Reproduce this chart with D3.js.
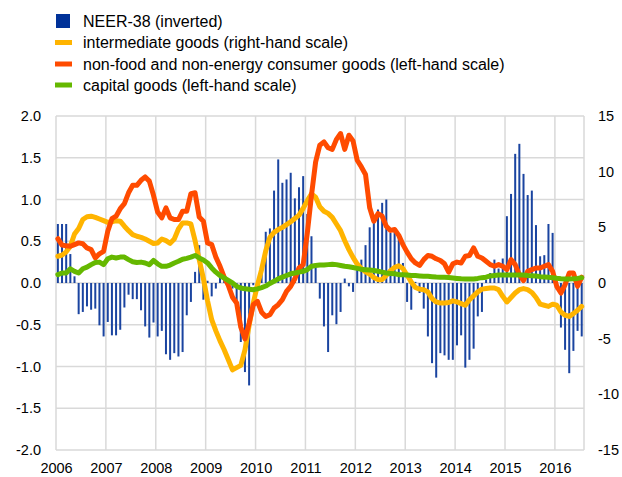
<!DOCTYPE html>
<html>
<head>
<meta charset="utf-8">
<script src="https://cdn.jsdelivr.net/npm/d3@7"></script>
<style>
  html, body { margin: 0; padding: 0; background: #fff; }
  svg { display: block; font-family: "Liberation Sans", Arial, sans-serif; }
</style>
</head>
<body>
<svg id="chart" width="622" height="477"></svg>
<script>
// Monthly data, Jan 2006 - Jul 2016
const years = ["2006", "2007", "2008", "2009", "2010", "2011", "2012", "2013", "2014", "2015", "2016"];
const leftTicks = [-2, -1.5, -1, -0.5, 0, 0.5, 1, 1.5, 2];
const rightTicks = [-15, -10, -5, 0, 5, 10, 15];

// NEER-38 (inverted), right-hand scale
const neer = [
  5.3, 5.3, 5.3, 2.6, 0.6, -2.8, -2.6, -2.1, -2.4, -2.3, -3.8, -4.8,
  -3.5, -4.7, -4.7, -4.2, -2.2, -1.05, -1.45, -1.45, -2.45, -3.9, -4.9, -3.55,
  -4.8, -4.3, -6.4, -6.9, -6.3, -6.6, -6.2, -2.9, -1.7, 1.0, 3.4, -1.5,
  0.2, -1.2, -0.5, 0.8, 0.3, -0.3, -0.5, -1.7, -5.3, -8.0, -9.2, -0.2,
  -0.2, 1.5, 4.6, 4.9, 8.3, 11.1, 9.0, 9.3, 9.9, 7.6, 8.6, 9.6,
  6.2, 4.2, 1.4, -1.4, -3.9, -6.2, -2.9, -3.7, -2.6, 0.4, -0.3, -0.8,
  1.9, 2.1, 3.4, 5.0, 5.5, 6.6, 7.2, 7.5, 4.5, 4.6, 4.2, 1.8,
  -1.7, -2.4, 0.1, -0.9, -2.3, -4.8, -7.2, -8.5, -6.3, -6.5, -6.9, -6.9,
  -5.6, -4.7, -7.6, -6.9, -5.9, -3.0, -2.6, 0.3, 0.9, 2.1, 1.3, 2.2,
  6.0, 8.0, 11.6, 12.5, 9.8, 7.9, 8.3, 5.2, 2.4, 2.5, 5.3, 4.5,
  -0.6, -4.0, -6.0, -8.1, -6.1, -4.3, -4.8
];

// intermediate goods, right-hand scale
const intermediate = [
  2.4, 2.5, 2.8, 3.3, 4.4, 4.9, 5.7, 5.95, 6.0, 5.9, 5.75, 5.6,
  5.45, 5.5, 5.6, 5.55, 5.1, 4.7, 4.35, 4.2, 4.1, 3.95, 3.75, 3.55,
  3.6, 3.95, 3.8, 3.56, 3.95, 4.85, 5.4, 5.4, 5.3, 3.8, 2.1, 0.4,
  -1.6, -3.3, -4.3, -5.2, -6.0, -6.9, -7.8, -7.6, -7.4, -6.0, -3.8, -1.8,
  -0.2, 1.2, 2.9, 4.1, 4.55, 4.8, 5.0, 5.25, 5.5, 5.8, 6.1, 6.7,
  7.4, 8.0, 7.7, 6.85, 6.45, 6.25, 5.9, 5.3, 4.7, 3.8, 3.0, 2.3,
  1.7, 1.3, 1.0, 0.8, 0.5, 0.3, 0.3, 0.7, 1.1, 1.4, 1.55, 1.3,
  0.7, 0.1, -0.4, -0.55, -0.6, -0.8, -1.4, -1.7, -1.8, -1.8, -1.75, -1.6,
  -1.7, -1.85, -2.0, -1.5, -1.15, -0.8, -0.55, -0.5, -0.45, -0.45, -0.6, -1.2,
  -1.7, -1.3, -0.9, -0.6, -0.5, -0.6, -0.85, -1.3, -1.9, -2.0, -2.1, -1.9,
  -2.0, -2.6, -2.9, -3.0, -2.75, -2.45, -2.1
];

// non-food and non-energy consumer goods, left-hand scale
const consumer = [
  0.53, 0.455, 0.445, 0.44, 0.46, 0.48, 0.47, 0.42, 0.40, 0.30, 0.35, 0.38,
  0.62, 0.77, 0.80, 0.89, 0.95, 1.08, 1.17, 1.17, 1.23, 1.27, 1.22, 1.05,
  0.85, 0.78, 0.90, 0.78, 0.76, 0.76, 0.86, 0.86, 1.07, 1.08, 0.79, 0.74,
  0.48, 0.46, 0.31, 0.20, 0.07, -0.03, -0.17, -0.24, -0.53, -0.67, -0.48, -0.26,
  -0.22, -0.35, -0.40, -0.38, -0.30, -0.26, -0.20, -0.10, -0.04, 0.05, 0.18, 0.22,
  0.60, 1.05, 1.45, 1.65, 1.69, 1.62, 1.60, 1.72, 1.79, 1.60, 1.77, 1.70,
  1.47, 1.39, 1.30, 0.90, 0.74, 0.83, 0.80, 0.68, 0.63, 0.64, 0.57, 0.46,
  0.37, 0.29, 0.24, 0.21, 0.28, 0.33, 0.32, 0.29, 0.27, 0.23, 0.13, 0.23,
  0.25, 0.24, 0.32, 0.33, 0.42, 0.32, 0.30, 0.26, 0.22, 0.20, 0.22, 0.20,
  0.16, 0.28, 0.22, 0.10, 0.03, 0.14, 0.16, 0.18, 0.18, 0.20, 0.22, 0.14,
  -0.04, -0.12, -0.02, 0.12, 0.12, -0.04, 0.07
];

// capital goods, left-hand scale
const capital = [
  0.10, 0.12, 0.12, 0.17, 0.14, 0.12, 0.17, 0.19, 0.22, 0.245, 0.25, 0.22,
  0.29, 0.31, 0.30, 0.31, 0.31, 0.28, 0.255, 0.245, 0.25, 0.24, 0.22, 0.27,
  0.23, 0.20, 0.20, 0.215, 0.24, 0.26, 0.285, 0.295, 0.31, 0.33, 0.30, 0.275,
  0.24, 0.18, 0.13, 0.09, 0.06, 0.03, 0.0, -0.04, -0.06, -0.07, -0.075, -0.08,
  -0.07, -0.055, -0.036, -0.005, 0.02, 0.05, 0.07, 0.09, 0.11, 0.12, 0.13, 0.14,
  0.16, 0.20, 0.21, 0.215, 0.215, 0.22, 0.225, 0.22, 0.21, 0.20, 0.195, 0.185,
  0.175, 0.165, 0.16, 0.155, 0.15, 0.14, 0.13, 0.12, 0.115, 0.11, 0.10, 0.098,
  0.095, 0.09, 0.09, 0.085, 0.08, 0.08, 0.076, 0.072, 0.07, 0.068, 0.066, 0.06,
  0.055, 0.05, 0.048, 0.048, 0.048, 0.055, 0.064, 0.07, 0.085, 0.09, 0.095, 0.096,
  0.096, 0.096, 0.096, 0.096, 0.096, 0.09, 0.088, 0.084, 0.076, 0.072, 0.068, 0.064,
  0.056, 0.05, 0.048, 0.048, 0.05, 0.055, 0.064
];

const legendItems = [
  { label: "NEER-38 (inverted)", color: "#003299", type: "bar" },
  { label: "intermediate goods (right-hand scale)", color: "#ffb400", type: "line" },
  { label: "non-food and non-energy consumer goods (left-hand scale)", color: "#ff4b00", type: "line" },
  { label: "capital goods (left-hand scale)", color: "#65b800", type: "line" }
];

(function () {
  "use strict";
  const svg = d3.select("#chart");
  const plot = { left: 56, right: 584, top: 116, bottom: 450 };

  const x = d3.scaleLinear().domain([0, neer.length]).range([plot.left, plot.right]);
  const yL = d3.scaleLinear().domain([-2, 2]).range([plot.bottom, plot.top]);
  const yR = d3.scaleLinear().domain([-15, 15]).range([plot.bottom, plot.top]);
  const mid = (i) => x(i + 0.45);

  // gridlines (also form the frame)
  const grid = svg.append("g").attr("stroke", "#d9d9d9").attr("stroke-width", 1.5);
  grid.selectAll("line.h")
    .data(leftTicks)
    .join("line")
    .attr("x1", plot.left).attr("x2", plot.right)
    .attr("y1", (d) => yL(d)).attr("y2", (d) => yL(d));
  const vTicks = years.map((_, k) => k * 12).concat([neer.length]);
  grid.selectAll("line.v")
    .data(vTicks)
    .join("line")
    .attr("x1", (d) => x(d)).attr("x2", (d) => x(d))
    .attr("y1", plot.top).attr("y2", plot.bottom);

  // NEER bars (right scale)
  svg.append("g")
    .attr("fill", "#1a44a0")
    .selectAll("rect")
    .data(neer)
    .join("rect")
    .attr("x", (d, i) => mid(i) - 1)
    .attr("width", 2)
    .attr("y", (d) => Math.min(yR(d), yR(0)))
    .attr("height", (d) => Math.abs(yR(d) - yR(0)));

  const lineOf = (scale) =>
    d3.line().x((d, i) => mid(i)).y((d) => scale(d)).curve(d3.curveLinear);

  const series = [
    { data: intermediate, scale: yR, color: legendItems[1].color },
    { data: consumer, scale: yL, color: legendItems[2].color },
    { data: capital, scale: yL, color: legendItems[3].color }
  ];
  svg.append("g")
    .attr("fill", "none")
    .attr("stroke-width", 5)
    .attr("stroke-linejoin", "round")
    .attr("stroke-linecap", "round")
    .selectAll("path")
    .data(series)
    .join("path")
    .attr("stroke", (s) => s.color)
    .attr("d", (s) => lineOf(s.scale)(s.data));

  // axes
  const fmt1 = (d) => d.toFixed(1);
  const axL = svg.append("g")
    .attr("transform", `translate(${plot.left},0)`)
    .call(d3.axisLeft(yL).tickValues(leftTicks).tickFormat(fmt1).tickSize(0).tickPadding(15));
  const axR = svg.append("g")
    .attr("transform", `translate(${plot.right},0)`)
    .call(d3.axisRight(yR).tickValues(rightTicks).tickFormat((d) => String(d)).tickSize(0).tickPadding(14));
  const axB = svg.append("g")
    .attr("transform", `translate(0,${plot.bottom})`)
    .call(d3.axisBottom(x).tickValues(years.map((_, k) => k * 12))
      .tickFormat((d) => years[d / 12]).tickSize(0).tickPadding(13));
  [axL, axR, axB].forEach((a) => {
    a.select(".domain").remove();
    a.selectAll("text")
      .attr("font-family", '"Liberation Sans", Arial, sans-serif')
      .attr("font-size", 14.5)
      .attr("fill", "#000");
  });

  // legend
  const rowY = [21, 42.5, 64, 85];
  const lg = svg.append("g");
  legendItems.forEach((item, k) => {
    const cy = rowY[k];
    if (item.type === "bar") {
      lg.append("rect")
        .attr("x", 56).attr("y", cy - 7)
        .attr("width", 14).attr("height", 14)
        .attr("fill", item.color);
    } else {
      lg.append("line")
        .attr("x1", 55).attr("x2", 72)
        .attr("y1", cy).attr("y2", cy)
        .attr("stroke", item.color)
        .attr("stroke-width", 5);
    }
    lg.append("text")
      .attr("x", 83).attr("y", cy)
      .attr("dy", "0.35em")
      .attr("font-size", 16)
      .attr("fill", "#000")
      .text(item.label);
  });
})();
</script>
</body>
</html>
